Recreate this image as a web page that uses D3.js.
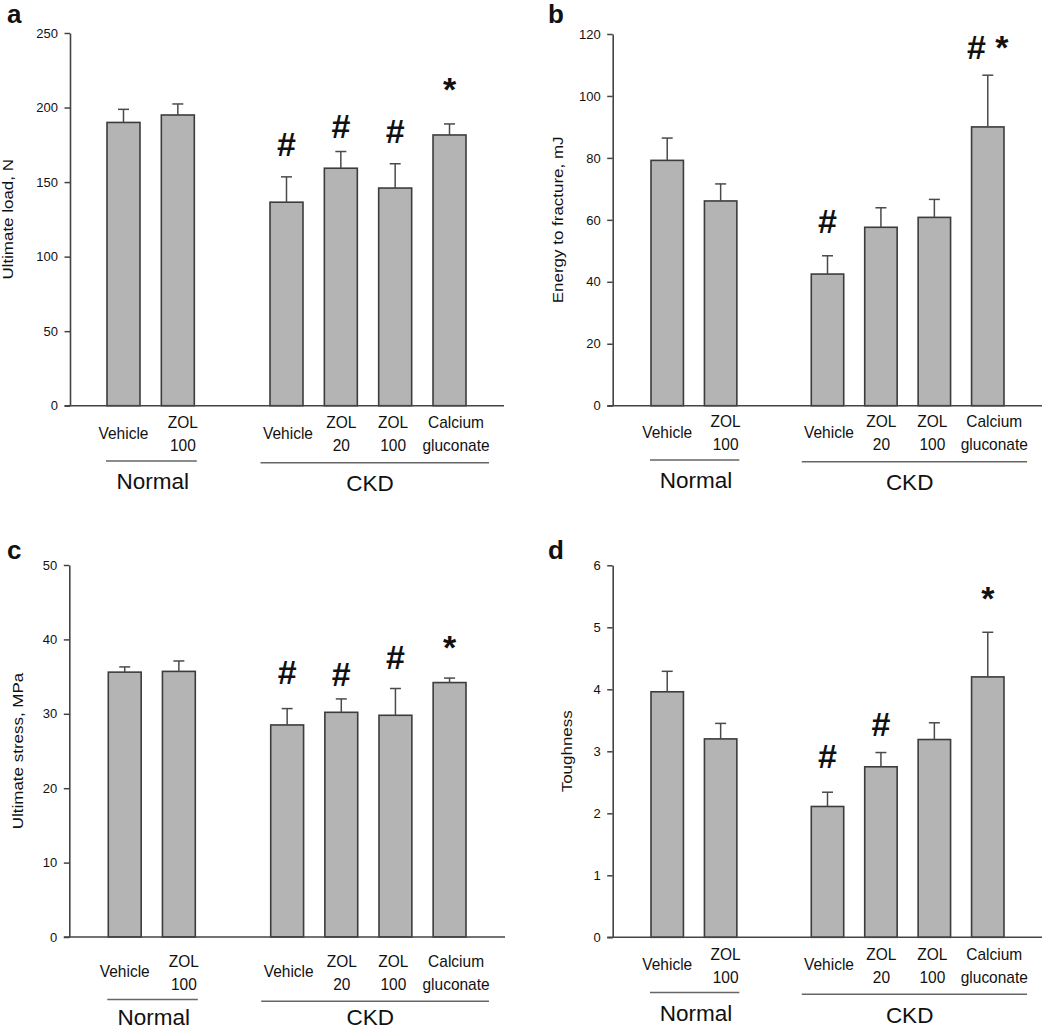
<!DOCTYPE html>
<html><head><meta charset="utf-8">
<script src="https://cdn.jsdelivr.net/npm/d3@7"></script>
<style>
body{margin:0;background:#fff}
svg{display:block}
text{font-family:"Liberation Sans",Arial,Helvetica,sans-serif}
</style>
</head><body>
<svg id="chart" width="1050" height="1031"></svg>
<script>
// ---------- DATA ----------
const slots = ["N-Vehicle","N-ZOL100","gap","CKD-Vehicle","CKD-ZOL20","CKD-ZOL100","CKD-CaGlu"];
const barSlots = ["N-Vehicle","N-ZOL100","CKD-Vehicle","CKD-ZOL20","CKD-ZOL100","CKD-CaGlu"];
const categoryLines = [["Vehicle"],["ZOL","100"],["Vehicle"],["ZOL","20"],["ZOL","100"],["Calcium","gluconate"]];
const groupNames = ["Normal","CKD"];
const groupMembers = [[0,1],[2,3,4,5]];

const loadMean = [190, 195, 136.5, 159.3, 146, 181.6];
const loadSem  = [8.8, 7.4, 17, 11.2, 16.3, 7.4];
const loadSig  = ["", "", "#", "#", "#", "*"];
const loadSigAt = [null, null, 175.6, 188, 184.6, 216.8];
const loadTicks = [0, 50, 100, 150, 200, 250];

const energyMean = [79.2, 66.1, 42.5, 57.6, 60.8, 90.0];
const energySem  = [7.2, 5.5, 5.9, 6.3, 5.8, 16.7];
const energySig  = ["", "", "#", "", "", "# *"];
const energySigAt = [null, null, 59.9, null, null, 116.1];
const energyTicks = [0, 20, 40, 60, 80, 100, 120];

const stressMean = [35.6, 35.7, 28.5, 30.2, 29.8, 34.2];
const stressSem  = [0.7, 1.4, 2.2, 1.8, 3.6, 0.6];
const stressSig  = ["", "", "#", "#", "#", "*"];
const stressSigAt = [null, null, 35.7, 35.4, 37.7, 39.9];
const stressTicks = [0, 10, 20, 30, 40, 50];

const toughMean = [3.96, 3.20, 2.11, 2.75, 3.19, 4.20];
const toughSem  = [0.33, 0.25, 0.23, 0.23, 0.27, 0.72];
const toughSig  = ["", "", "#", "#", "", "*"];
const toughSigAt = [null, null, 2.93, 3.45, null, 5.57];
const toughTicks = [0, 1, 2, 3, 4, 5, 6];

// ---------- LAYOUT ----------
const panels = [
  {letter:"a", title:"Ultimate load, N", mean:loadMean, sem:loadSem, sig:loadSig, sigAt:loadSigAt, ticks:loadTicks,
   x0:70, yTop:33, yBot:405.7, barRange:[107,466], axisEnd:504, shift:0, titleX:13, letterX:7, letterY:22.7},
  {letter:"b", title:"Energy to fracture, mJ", mean:energyMean, sem:energySem, sig:energySig, sigAt:energySigAt, ticks:energyTicks,
   x0:612.7, yTop:34, yBot:405.7, barRange:[651,1004], axisEnd:1042, shift:-1, titleX:563, letterX:548, letterY:23.3},
  {letter:"c", title:"Ultimate stress, MPa", mean:stressMean, sem:stressSem, sig:stressSig, sigAt:stressSigAt, ticks:stressTicks,
   x0:69.3, yTop:565, yBot:937, barRange:[108.3,466], axisEnd:505, shift:7.3, titleX:23, letterX:7, letterY:559.3},
  {letter:"d", title:"Toughness", mean:toughMean, sem:toughSem, sig:toughSig, sigAt:toughSigAt, ticks:toughTicks,
   x0:612.7, yTop:565.3, yBot:937.3, barRange:[651,1004], axisEnd:1042, shift:0, titleX:571.5, letterX:548, letterY:559.3}
];
const labelDx = [0, 5, 1.5, 0.5, -2, 6.5];
const H = 1031;

const svg = d3.select("#chart");
const AX = "#444";

function drawPanel(p) {
  const g = svg.append("g");
  const x = d3.scaleBand().domain(slots).range(p.barRange).paddingInner(0.393).paddingOuter(0);
  const y = d3.scaleLinear().domain([0, d3.max(p.ticks)]).range([p.yBot, p.yTop]);
  const bw = x.bandwidth();

  // panel letter
  g.append("text").attr("x", p.letterX).attr("y", p.letterY)
    .attr("font-size", 26).attr("font-weight", "bold").attr("fill", "#111").text(p.letter);

  // y title
  g.append("text")
    .attr("transform", `translate(${p.titleX},${(p.yTop + p.yBot) / 2}) rotate(-90) scale(1.13,1)`)
    .attr("text-anchor", "middle").attr("font-size", 15).attr("fill", "#111").text(p.title);

  // y axis
  const ax = g.append("g").attr("transform", `translate(${p.x0},0)`)
    .call(d3.axisLeft(y).tickValues(p.ticks).tickFormat(d3.format("d"))
      .tickSize(5.5).tickSizeOuter(0).tickPadding(6.5));
  ax.attr("font-family", null).attr("font-size", null);
  ax.select(".domain").attr("stroke", AX).attr("stroke-width", 1.6);
  ax.selectAll(".tick line").attr("stroke", AX).attr("stroke-width", 1.5);
  ax.selectAll(".tick text").attr("font-size", 13).attr("fill", "#111");

  const data = barSlots.map((s, i) => ({slot:s, mean:p.mean[i], sem:p.sem[i], sig:p.sig[i], sigAt:p.sigAt[i], lines:categoryLines[i], dx:labelDx[i]}));

  // bars
  g.append("g").selectAll("rect").data(data).join("rect")
    .attr("x", d => x(d.slot)).attr("width", bw)
    .attr("y", d => y(d.mean)).attr("height", d => y(0) - y(d.mean))
    .attr("fill", "#b4b4b4").attr("stroke", "#3c3c3c").attr("stroke-width", 1.6);

  // error bars (upper only)
  const eb = g.append("g").attr("stroke", "#4a4a4a").attr("stroke-width", 1.5);
  eb.selectAll("line.v").data(data).join("line").attr("class", "v")
    .attr("x1", d => x(d.slot) + bw / 2).attr("x2", d => x(d.slot) + bw / 2)
    .attr("y1", d => y(d.mean)).attr("y2", d => y(d.mean + d.sem));
  eb.selectAll("line.c").data(data).join("line").attr("class", "c")
    .attr("x1", d => x(d.slot) + bw / 2 - 5.5).attr("x2", d => x(d.slot) + bw / 2 + 5.5)
    .attr("y1", d => y(d.mean + d.sem)).attr("y2", d => y(d.mean + d.sem));

  // x axis baseline
  g.append("line").attr("x1", p.x0 - 5.5).attr("x2", p.axisEnd)
    .attr("y1", y(0)).attr("y2", y(0)).attr("stroke", AX).attr("stroke-width", 1.6);

  // significance markers
  g.append("g").selectAll("text").data(data.filter(d => d.sig)).join("text")
    .attr("x", d => x(d.slot) + bw / 2)
    .attr("y", d => y(d.sigAt) + (d.sig.startsWith("#") ? 12.5 : 18.5))
    .attr("text-anchor", "middle").attr("font-size", 34).attr("font-weight", "bold")
    .attr("fill", "#111").attr("xml:space", "preserve").text(d => d.sig);

  // category labels
  const base = y(0) + p.shift;
  data.forEach(d => {
    const cx = x(d.slot) + bw / 2 + d.dx;
    const offs = d.lines.length === 1 ? [33] : [22.5, 45.5];
    d.lines.forEach((ln, k) => {
      g.append("text").attr("transform", `translate(${cx},${base + offs[k]}) scale(1,1.12)`)
        .attr("text-anchor", "middle").attr("font-size", 15.5).attr("fill", "#111").text(ln);
    });
  });

  // group lines and labels
  groupNames.forEach((name, gi) => {
    const mem = groupMembers[gi];
    const first = x(barSlots[mem[0]]), last = x(barSlots[mem[mem.length - 1]]) + bw;
    const isCKD = gi === 1;
    const lx1 = first - (isCKD ? 9.5 : 1), lx2 = last + (isCKD ? 23 : 2.5);
    const ly = base + (isCKD ? 57 : 55.3);
    g.append("line").attr("x1", lx1).attr("x2", lx2).attr("y1", ly).attr("y2", ly)
      .attr("stroke", "#666").attr("stroke-width", 1.5);
    const gc = (first + bw / 2 + last - bw / 2) / 2 + 2;
    const ty = Math.min(base + (isCKD ? 85.5 : 83.5), H - 6);
    g.append("text").attr("x", gc).attr("y", ty)
      .attr("text-anchor", "middle").attr("font-size", 22.5).attr("fill", "#111").text(name);
  });
}

panels.forEach(drawPanel);
</script>
</body></html>
